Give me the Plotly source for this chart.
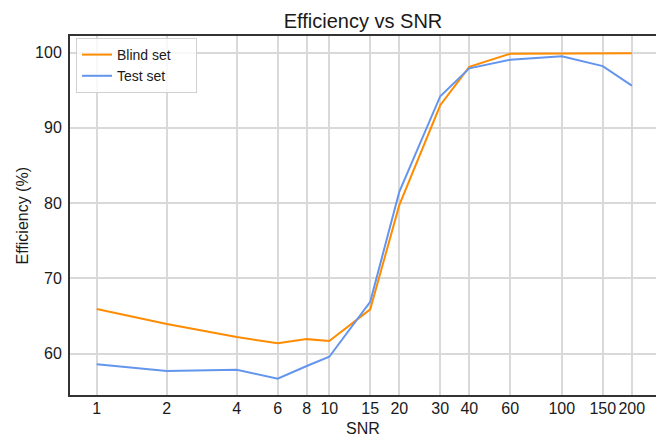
import plotly.graph_objects as go
import numpy as np

snr = [1, 2, 4, 6, 8, 10, 15, 20, 30, 40, 60, 100, 150, 200]
tick_labels = ["1", "2", "4", "6", "8", "10", "15", "20", "30", "40", "60", "100", "150", "200"]
blind_set = [65.93, 63.94, 62.21, 61.41, 61.94, 61.68, 65.89, 79.73, 93.0, 98.1, 99.85, 99.9, 99.9, 99.9]
test_set = [58.59, 57.7, 57.88, 56.68, 58.37, 59.6, 66.9, 81.5, 94.2, 97.9, 99.05, 99.5, 98.2, 95.6]
y_ticks = [60, 70, 80, 90, 100]

font = "Liberation Sans, Arial, sans-serif"
pad = "\u00a0" * 5

fig = go.Figure()
fig.add_trace(go.Scatter(x=snr, y=blind_set, mode="lines", name="Blind set" + pad,
                         line=dict(color="#ff8c00", width=2)))
fig.add_trace(go.Scatter(x=snr, y=test_set, mode="lines", name="Test set",
                         line=dict(color="#6495ed", width=2)))

plot_w, plot_h = 656 - 70, 434 - 36 - 39

fig.update_layout(
    width=656, height=434,
    margin=dict(l=70, r=0, t=36, b=39),
    paper_bgcolor="white", plot_bgcolor="white",
    font=dict(family=font, size=16, color="#1a1a1a"),
    title=dict(text="Efficiency vs SNR", x=(70 + 656) / 2 / 656, xanchor="center",
               y=1 - 21 / 434, yanchor="middle", font=dict(size=20, color="#1a1a1a")),
    legend=dict(x=(76 - 70) / plot_w, y=1 - (38 - 36) / plot_h, xanchor="left", yanchor="top",
                bgcolor="rgba(255,255,255,0.8)", bordercolor="#d0d0d0", borderwidth=1,
                font=dict(size=14), tracegroupgap=0, itemwidth=30),
    showlegend=True,
    annotations=[
        dict(text="SNR", x=0.5, xref="paper", y=(434 - 39 - 428) / plot_h, yref="paper",
             showarrow=False, font=dict(size=16), xanchor="center", yanchor="middle"),
        dict(text="Efficiency (%)", x=(22 - 70) / plot_w, xref="paper", y=0.5, yref="paper",
             showarrow=False, textangle=-90,
             font=dict(size=16), xanchor="center", yanchor="middle"),
    ],
)

fig.update_xaxes(
    type="log", range=[-0.115, 2.405],
    tickvals=snr, ticktext=tick_labels,
    showgrid=True, gridcolor="#d9d9d9", gridwidth=1.5,
    showline=True, linecolor="#333333", linewidth=2, mirror=True,
    ticks="", ticklabelstandoff=-2,
    zeroline=False,
    tickfont=dict(size=16),
)
fig.update_yaxes(
    range=[54.52, 102.2],
    tickvals=y_ticks,
    showgrid=True, gridcolor="#d9d9d9", gridwidth=1.5,
    showline=True, linecolor="#333333", linewidth=2,
    ticks="outside", ticklen=3, tickcolor="rgba(0,0,0,0)",
    zeroline=False,
    tickfont=dict(size=16),
)

fig.write_html("out.html")
